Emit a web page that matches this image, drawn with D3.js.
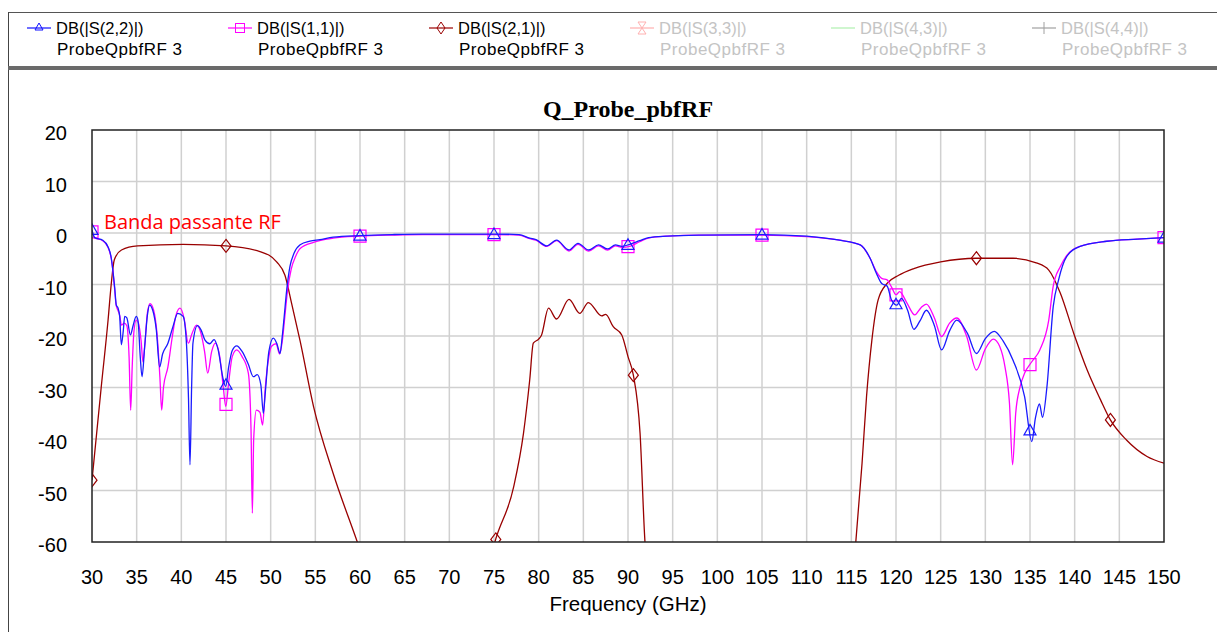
<!DOCTYPE html>
<html>
<head>
<meta charset="utf-8">
<script src="https://cdn.jsdelivr.net/npm/d3@7"></script>
<style>
  html, body { margin: 0; padding: 0; background: #fff; }
  svg { display: block; }
</style>
</head>
<body>
<svg id="chart"></svg>
<script>
// S(2,2) in dB, [GHz, dB]
const s22 = [
  [30, 0.6], [30.3, -0.9], [31.2, -1.4], [31.8, -2.7], [32.16, -4.9], [32.35, -7.5], [32.54, -10.6],
  [32.72, -14], [32.9, -14.5], [33.1, -16.2], [33.28, -21.7], [33.5, -19], [33.66, -16.2], [33.9, -16.5],
  [34.3, -19.8], [34.6, -18], [34.95, -16.2], [35.15, -17], [35.4, -24], [35.6, -27.9], [35.9, -22],
  [36.2, -16], [36.45, -14], [36.8, -15], [37.2, -18.8], [37.57, -26], [37.9, -23.5], [38.5, -21.4],
  [39.06, -18.2], [39.6, -15.6], [40.2, -16.2], [40.55, -20.8], [40.8, -32], [40.97, -45], [41.15, -30],
  [41.3, -21.4], [41.8, -18], [42.2, -18.8], [42.65, -20.8], [43.2, -21.5], [43.66, -20.7], [44.1, -22.5],
  [44.7, -28.5], [44.97, -29.8], [45.3, -26], [45.7, -22.8], [46.2, -21.9], [46.8, -23], [47.5, -25.5],
  [48.06, -27.9], [48.5, -27.5], [48.9, -29.5], [49.18, -35], [49.4, -31], [49.8, -23], [50.3, -20.4],
  [50.7, -21.5], [51.05, -23.4], [51.3, -20], [51.5, -16.5], [51.8, -11], [52.16, -6.5], [52.6, -4],
  [53.3, -2.3], [54.4, -1.6], [55.5, -1.3], [57, -0.8], [60, -0.5], [63.6, -0.3], [67, -0.2], [75, -0.2],
  [77.8, -0.3], [79, -1.0], [79.7, -1.3], [80.9, -2.5], [82, -1.4], [83.4, -3.3], [84.4, -2.0],
  [85.6, -3.3], [86.7, -2.3], [87.7, -3.1], [88.6, -2.3], [89.3, -2.6], [90.2, -2.2], [91.3, -1.5],
  [92.3, -0.9], [94.4, -0.6], [98, -0.4], [105, -0.3], [110, -0.6], [113.7, -1.4], [116, -2.3],
  [117.1, -4.9], [117.8, -7.8], [118.4, -9.8], [119, -10.3], [119.5, -13], [120.1, -14], [120.6, -12.7],
  [121.3, -15], [122, -18.7], [122.7, -17], [123.4, -15], [124.3, -18], [125.1, -22.7], [126, -19],
  [126.8, -16.9], [128, -19.5], [129, -23.4], [130, -20.5], [131, -19.1], [132, -21], [133.1, -24.7],
  [134.4, -31.8], [135.2, -40.5], [135.6, -36], [136.06, -33.2], [136.4, -35.8], [136.9, -29.8],
  [137.6, -14.3], [138.2, -9.1], [139.1, -4.6], [140.6, -2.6], [143.6, -1.6], [147, -1.2], [150, -0.9]
];

// S(1,1) in dB
const s11 = [
  [30, 0.2], [30.3, -0.9], [31.2, -1.5], [31.8, -2.8], [32.16, -5], [32.35, -7.5], [32.54, -11],
  [32.7, -14], [32.9, -15], [33.1, -16], [33.3, -17.9], [33.6, -17.5], [33.9, -18], [34.15, -24],
  [34.33, -34.4], [34.5, -26], [34.7, -19], [34.95, -16.9], [35.2, -17.5], [35.5, -21], [35.7, -25],
  [35.9, -22], [36.2, -15.5], [36.5, -13.7], [36.9, -15], [37.3, -20], [37.6, -28], [37.8, -34.4],
  [38.0, -30], [38.5, -26], [39.0, -20], [39.4, -16], [39.85, -14.6], [40.3, -16.5], [40.78, -21.4],
  [41.2, -19.5], [41.7, -17.9], [42.2, -19.5], [42.6, -23], [42.95, -27.2], [43.4, -23], [43.8, -21.4],
  [44.3, -24], [44.7, -30], [44.97, -33.7], [45.3, -29], [45.7, -24], [46.2, -22.7], [46.8, -24],
  [47.5, -27.2], [47.8, -38], [47.95, -54.4], [48.1, -40], [48.4, -34.4], [48.8, -34.8], [49.1, -37.3],
  [49.4, -30], [49.8, -24], [50.1, -22], [50.6, -21.5], [51, -23.5], [51.3, -21], [51.6, -16],
  [51.9, -11], [52.3, -7], [52.8, -4.5], [53.3, -3], [54.8, -1.8], [57, -1.0], [60, -0.6], [63.6, -0.4],
  [67, -0.3], [75, -0.3], [77.8, -0.4], [79, -1.1], [79.7, -1.4], [80.9, -2.6], [82, -1.5], [83.4, -3.5],
  [84.4, -2.2], [85.6, -3.5], [86.7, -2.5], [87.7, -3.3], [88.6, -2.5], [89.3, -2.8], [90.2, -2.6],
  [91.3, -1.7], [92.3, -1.0], [94.4, -0.6], [98, -0.4], [105, -0.4], [110, -0.7], [113.7, -1.4],
  [116, -2.3], [117.1, -4.9], [117.8, -7.5], [118.4, -8.8], [119, -9.1], [119.5, -10.5], [120, -12],
  [120.4, -11.4], [121.2, -13.5], [122.1, -15.9], [122.8, -14.5], [123.4, -13.8], [124.3, -16.5],
  [125.1, -20.1], [126, -17.5], [126.8, -16.5], [127.9, -20], [129, -26.6], [130, -22.5], [130.9, -20.6],
  [131.6, -22], [132.2, -26], [132.7, -33], [133.05, -45], [133.4, -35], [133.9, -29.8], [134.4, -27.2],
  [135.2, -25], [136.1, -22.7], [137.1, -16.9], [137.6, -10.3], [138.4, -6.5], [139.1, -4.4],
  [140.6, -2.6], [143.6, -1.6], [147, -1.2], [150, -0.9]
];

// S(2,1) in dB
const s21 = [
  [30, -48], [31.04, -29.8], [31.8, -16.9], [32.16, -9.8], [32.5, -5.2], [33.3, -3.3], [35.1, -2.5],
  [40.2, -2.2], [45, -2.5], [48.8, -3.6], [50.67, -5.6], [51.6, -8.2], [52.35, -13.7], [53.3, -21],
  [54.8, -33.7], [57, -46.7], [59.7, -60], [60.5, -64], [61.5, -70], [73.5, -70], [74.5, -64],
  [75.1, -60], [77.2, -49.3], [78.3, -38.9], [79, -28.5], [79.4, -21.4], [80, -20.6], [80.3, -19.9],
  [81.1, -14.6], [82, -16.7], [83.4, -12.9], [84.6, -15.6], [85.56, -13.5], [87.05, -16.1],
  [87.5, -15.8], [88.35, -18.2], [89.3, -19.8], [90, -24], [90.6, -27.6], [91.35, -38.9], [91.9, -60],
  [92.2, -66], [93, -70], [114.5, -70], [115.2, -66], [115.5, -60], [116.2, -44.7], [116.7, -31.8],
  [117.3, -20.8], [118, -13], [119, -9.8], [120.3, -8.2], [122, -6.9], [125, -5.6], [129, -4.9],
  [133.1, -4.9], [135.7, -5.8], [137.1, -7.2], [138.4, -11.7], [139.9, -19.5], [141.4, -26.6],
  [142.9, -32.4], [144, -36.3], [145.8, -40.2], [148.1, -43.4], [150, -44.7]
];

const reflMarkerFreqs = [30, 45, 60, 75, 90, 105, 120, 135, 150];
const s21MarkerFreqs = [30, 45, 75.2, 90.6, 129, 144];

const xTicks = [30, 35, 40, 45, 50, 55, 60, 65, 70, 75, 80, 85, 90, 95, 100, 105, 110, 115, 120, 125, 130, 135, 140, 145, 150];
const yTicks = [20, 10, 0, -10, -20, -30, -40, -50, -60];

const legendNames = ['DB(|S(2,2)|)', 'DB(|S(1,1)|)', 'DB(|S(2,1)|)', 'DB(|S(3,3)|)', 'DB(|S(4,3)|)', 'DB(|S(4,4)|)'];
const legendSub = 'ProbeQpbfRF 3';

const width = 1217, height = 632;
const plot = { left: 92, right: 1164, top: 130, bottom: 542 };

const svg = d3.select('#chart').attr('width', width).attr('height', height);

const x = d3.scaleLinear().domain([30, 150]).range([plot.left, plot.right]);
const y = d3.scaleLinear().domain([-60, 20]).range([plot.bottom, plot.top]);

// frame
svg.append('line').attr('x1', 8).attr('x2', width).attr('y1', 12.5).attr('y2', 12.5).attr('stroke', '#555');
svg.append('line').attr('x1', 8.5).attr('x2', 8.5).attr('y1', 12).attr('y2', height).attr('stroke', '#444');
svg.append('rect').attr('x', 8).attr('y', 66).attr('width', width).attr('height', 4).attr('fill', '#6a6a6a');

// legend
const legendColors = ['#1010ff', '#ff00ff', '#990000', '#ffb0b0', '#b0f0b0', '#a0a0a0'];
const legendText = ['#000', '#000', '#000', '#c4c4c4', '#c4c4c4', '#c4c4c4'];
legendNames.forEach((name, i) => {
  const bx = 27 + 201 * i;
  const g = svg.append('g').attr('transform', `translate(${bx},0)`);
  const c = legendColors[i];
  g.append('line').attr('x1', 0).attr('x2', 24).attr('y1', 28).attr('y2', 28).attr('stroke', c).attr('stroke-width', 1.2);
  if (i === 0) g.append('path').attr('d', 'M12,23L16,30L8,30Z').attr('fill', 'none').attr('stroke', c);
  if (i === 1) g.append('rect').attr('x', 7.5).attr('y', 23.5).attr('width', 9).attr('height', 9).attr('fill', 'none').attr('stroke', c);
  if (i === 2) g.append('path').attr('d', 'M12,22L16,28L12,34L8,28Z').attr('fill', 'none').attr('stroke', c);
  if (i === 3) g.append('path').attr('d', 'M8,22L16,22L8,34L16,34Z').attr('fill', 'none').attr('stroke', c);
  if (i === 5) g.append('line').attr('x1', 12).attr('x2', 12).attr('y1', 22).attr('y2', 34).attr('stroke', c);
  g.append('text').attr('x', 29).attr('y', 34).text(name)
    .attr('font-family', 'Liberation Sans, Arial, sans-serif').attr('font-size', 16.5).attr('fill', legendText[i]);
  g.append('text').attr('x', 30).attr('y', 55).text(legendSub).attr('letter-spacing', 0.5)
    .attr('font-family', 'Liberation Sans, Arial, sans-serif').attr('font-size', 17).attr('fill', legendText[i]);
});

// title
svg.append('text').attr('x', (plot.left + plot.right) / 2).attr('y', 117).attr('text-anchor', 'middle')
  .attr('font-family', 'Liberation Serif, Times New Roman, serif').attr('font-weight', 'bold').attr('font-size', 24)
  .text('Q_Probe_pbfRF');

// grid
svg.append('g').selectAll('line').data(xTicks.slice(1, -1)).join('line')
  .attr('x1', d => x(d)).attr('x2', d => x(d)).attr('y1', plot.top).attr('y2', plot.bottom)
  .attr('stroke', '#d0d0d0').attr('stroke-width', 1.5);
svg.append('g').selectAll('line').data(yTicks.slice(1, -1)).join('line')
  .attr('x1', plot.left).attr('x2', plot.right).attr('y1', d => y(d)).attr('y2', d => y(d))
  .attr('stroke', '#d0d0d0').attr('stroke-width', 1.5);

// tick labels
svg.append('g').selectAll('text').data(yTicks).join('text')
  .attr('x', 67).attr('y', d => y(d) + 10).attr('text-anchor', 'end')
  .attr('font-family', 'Liberation Sans, Arial, sans-serif').attr('font-size', 20).text(d => d);
svg.append('g').selectAll('text').data(xTicks).join('text')
  .attr('x', d => x(d)).attr('y', 584).attr('text-anchor', 'middle')
  .attr('font-family', 'Liberation Sans, Arial, sans-serif').attr('font-size', 20).text(d => d);
svg.append('text').attr('x', (plot.left + plot.right) / 2).attr('y', 611).attr('text-anchor', 'middle')
  .attr('font-family', 'Liberation Sans, Arial, sans-serif').attr('font-size', 20.5).text('Frequency (GHz)');

// curves
svg.append('clipPath').attr('id', 'clip').append('rect')
  .attr('x', plot.left).attr('y', plot.top).attr('width', plot.right - plot.left).attr('height', plot.bottom - plot.top);
const area = svg.append('g').attr('clip-path', 'url(#clip)');

const line = d3.line().x(d => x(d[0])).y(d => y(d[1])).curve(d3.curveMonotoneX);

function valueAt(series, f) {
  const i = d3.bisector(d => d[0]).left(series, f);
  if (i <= 0) return series[0][1];
  if (i >= series.length) return series[series.length - 1][1];
  const a = series[i - 1], b = series[i];
  return a[1] + (b[1] - a[1]) * (f - a[0]) / (b[0] - a[0]);
}

const series = [
  { data: s21, color: '#990000', marks: s21MarkerFreqs, shape: 'diamond' },
  { data: s11, color: '#ff00ff', marks: reflMarkerFreqs, shape: 'square' },
  { data: s22, color: '#1a1aff', marks: reflMarkerFreqs, shape: 'triangle' }
];

series.forEach(s => {
  area.append('path').datum(s.data).attr('d', line)
    .attr('fill', 'none').attr('stroke', s.color).attr('stroke-width', 1.3);
  area.selectAll(null).data(s.marks).join('path')
    .attr('d', f => {
      const px = x(f), py = y(valueAt(s.data, f));
      if (s.shape === 'triangle') return `M${px},${py - 6}L${px + 6},${py + 4.5}L${px - 6},${py + 4.5}Z`;
      if (s.shape === 'square') return `M${px - 6},${py - 6}h12v12h-12Z`;
      return `M${px},${py - 6.5}L${px + 5},${py}L${px},${py + 6.5}L${px - 5},${py}Z`;
    })
    .attr('fill', 'none').attr('stroke', s.color).attr('stroke-width', 1.2);
});

// plot border
svg.append('rect').attr('x', plot.left).attr('y', plot.top).attr('width', plot.right - plot.left).attr('height', plot.bottom - plot.top)
  .attr('fill', 'none').attr('stroke', '#222').attr('stroke-width', 1.5);

// annotation
svg.append('text').attr('x', 104).attr('y', 229)
  .attr('font-family', 'Open Sans, sans-serif').attr('font-size', 20).attr('fill', '#ff0000')
  .text('Banda passante RF');
</script>
</body>
</html>
